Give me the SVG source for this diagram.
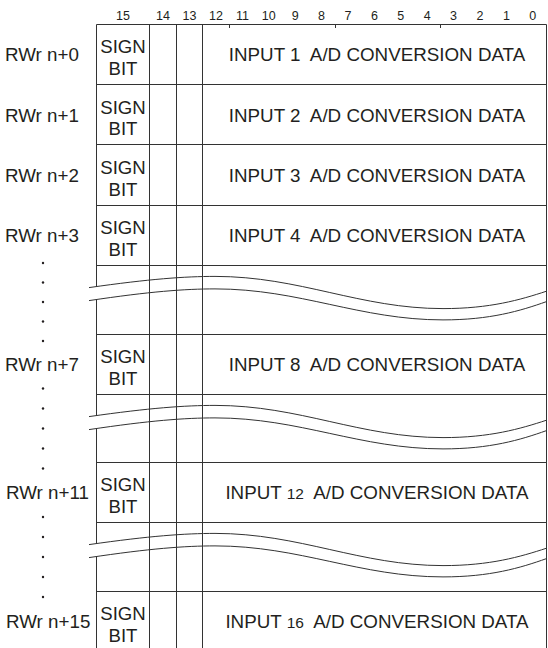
<svg xmlns="http://www.w3.org/2000/svg" xmlns:xlink="http://www.w3.org/1999/xlink" width="548" height="648" viewBox="0 0 548 648">
<style>
  .ln { stroke: #333; stroke-width: 1; fill: none; }
  .wv { stroke: #333; stroke-width: 1; fill: none; }
  .t { font-family: "Liberation Sans", Arial, sans-serif; font-size: 18.8px; fill: #231f20; }
  .sb { font-family: "Liberation Sans", Arial, sans-serif; font-size: 18.6px; fill: #231f20; text-anchor: middle; }
  .dt { font-family: "Liberation Sans", Arial, sans-serif; font-size: 18.8px; fill: #231f20; text-anchor: middle; }
  .hd { font-family: "Liberation Sans", Arial, sans-serif; font-size: 12.5px; fill: #231f20; text-anchor: middle; }
  .sm { font-size: 15.5px; }
  .dot { fill: #231f20; }
</style>
<defs>
  <g id="wave">
    <path class="wv" d="M89,22.1 C150,13.4 185,10.9 215,10.9 C300,10.9 360,43.1 443,43.1 C490,43.1 520,34.4 546.5,25.7"/>
    <path class="wv" d="M89,35.1 C150,26 185,23.4 215,23.4 C300,23.4 360,54.4 443,54.4 C490,54.4 520,45.5 546.5,36.1"/>
  </g>
</defs>
<rect width="548" height="648" fill="#fff"/>

<g id="header">
  <text class="hd" x="123" y="19.5">15</text>
  <text class="hd" x="163" y="19.5">14</text>
  <text class="hd" x="189.5" y="19.5">13</text>
  <text class="hd" x="216" y="19.5">12</text>
  <text class="hd" x="242.4" y="19.5">11</text>
  <text class="hd" x="268.8" y="19.5">10</text>
  <text class="hd" x="295.2" y="19.5">9</text>
  <text class="hd" x="321.6" y="19.5">8</text>
  <text class="hd" x="348" y="19.5">7</text>
  <text class="hd" x="374.4" y="19.5">6</text>
  <text class="hd" x="400.8" y="19.5">5</text>
  <text class="hd" x="427.2" y="19.5">4</text>
  <text class="hd" x="453.6" y="19.5">3</text>
  <text class="hd" x="480" y="19.5">2</text>
  <text class="hd" x="506.4" y="19.5">1</text>
  <text class="hd" x="532.8" y="19.5">0</text>
</g>

<g id="grid">
  <path class="ln" d="M96.5,24.5 H546.5 M96.5,84.5 H546.5 M96.5,144.5 H546.5 M96.5,205.5 H546.5 M96.5,265.5 H546.5 M96.5,334.5 H546.5 M96.5,394.5 H546.5 M96.5,462.5 H546.5 M96.5,522.5 H546.5 M96.5,591.5 H546.5"/>
  <path class="ln" d="M149.5,24.5 V648 M176.5,24.5 V648 M202.5,24.5 V648 M546.5,24.5 V648"/>
  <path class="ln" d="M96.5,24.5 V286.5 M96.5,299.5 V415.5 M96.5,428.5 V543.5 M96.5,556.5 V648"/>
  <path class="ln" d="M229.5,24.5 V28 M335.5,24.5 V28 M440.5,24.5 V28"/>
</g>

<g id="breaks">
  <use xlink:href="#wave" transform="translate(0,265.5)"/>
  <use xlink:href="#wave" transform="translate(0,394.5)"/>
  <use xlink:href="#wave" transform="translate(0,522.5)"/>
</g>

<g id="dots">
  <circle class="dot" cx="43" cy="263" r="1.2"/>
  <circle class="dot" cx="43" cy="282.5" r="1.2"/>
  <circle class="dot" cx="43" cy="302" r="1.2"/>
  <circle class="dot" cx="43" cy="321.5" r="1.2"/>
  <circle class="dot" cx="43" cy="341" r="1.2"/>
  <circle class="dot" cx="43" cy="388.5" r="1.2"/>
  <circle class="dot" cx="43" cy="408.5" r="1.2"/>
  <circle class="dot" cx="43" cy="428.5" r="1.2"/>
  <circle class="dot" cx="43" cy="448.5" r="1.2"/>
  <circle class="dot" cx="43" cy="468.5" r="1.2"/>
  <circle class="dot" cx="43" cy="517" r="1.2"/>
  <circle class="dot" cx="43" cy="537" r="1.2"/>
  <circle class="dot" cx="43" cy="557" r="1.2"/>
  <circle class="dot" cx="43" cy="577" r="1.2"/>
  <circle class="dot" cx="43" cy="597" r="1.2"/>
</g>

<g id="row0">
  <text class="t" x="5" y="61">RWr n+0</text>
  <text class="sb" x="123" y="53">SIGN</text>
  <text class="sb" x="123" y="74.5">BIT</text>
  <text class="dt" x="377" y="61" xml:space="preserve">INPUT 1  A/D CONVERSION DATA</text>
</g>
<g id="row1">
  <text class="t" x="5" y="121.5">RWr n+1</text>
  <text class="sb" x="123" y="113.5">SIGN</text>
  <text class="sb" x="123" y="135">BIT</text>
  <text class="dt" x="377" y="121.5" xml:space="preserve">INPUT 2  A/D CONVERSION DATA</text>
</g>
<g id="row2">
  <text class="t" x="5" y="182">RWr n+2</text>
  <text class="sb" x="123" y="174">SIGN</text>
  <text class="sb" x="123" y="195.5">BIT</text>
  <text class="dt" x="377" y="182" xml:space="preserve">INPUT 3  A/D CONVERSION DATA</text>
</g>
<g id="row3">
  <text class="t" x="5" y="242">RWr n+3</text>
  <text class="sb" x="123" y="234">SIGN</text>
  <text class="sb" x="123" y="255.5">BIT</text>
  <text class="dt" x="377" y="242" xml:space="preserve">INPUT 4  A/D CONVERSION DATA</text>
</g>
<g id="row7">
  <text class="t" x="5" y="371">RWr n+7</text>
  <text class="sb" x="123" y="363">SIGN</text>
  <text class="sb" x="123" y="384.5">BIT</text>
  <text class="dt" x="377" y="371" xml:space="preserve">INPUT 8  A/D CONVERSION DATA</text>
</g>
<g id="row11">
  <text class="t" x="6" y="499">RWr n+11</text>
  <text class="sb" x="123" y="491">SIGN</text>
  <text class="sb" x="123" y="512.5">BIT</text>
  <text class="dt" x="377" y="499" xml:space="preserve">INPUT <tspan class="sm">12</tspan>  A/D CONVERSION DATA</text>
</g>
<g id="row15">
  <text class="t" x="6" y="628">RWr n+15</text>
  <text class="sb" x="123" y="620">SIGN</text>
  <text class="sb" x="123" y="641.5">BIT</text>
  <text class="dt" x="377" y="628" xml:space="preserve">INPUT <tspan class="sm">16</tspan>  A/D CONVERSION DATA</text>
</g>
</svg>
